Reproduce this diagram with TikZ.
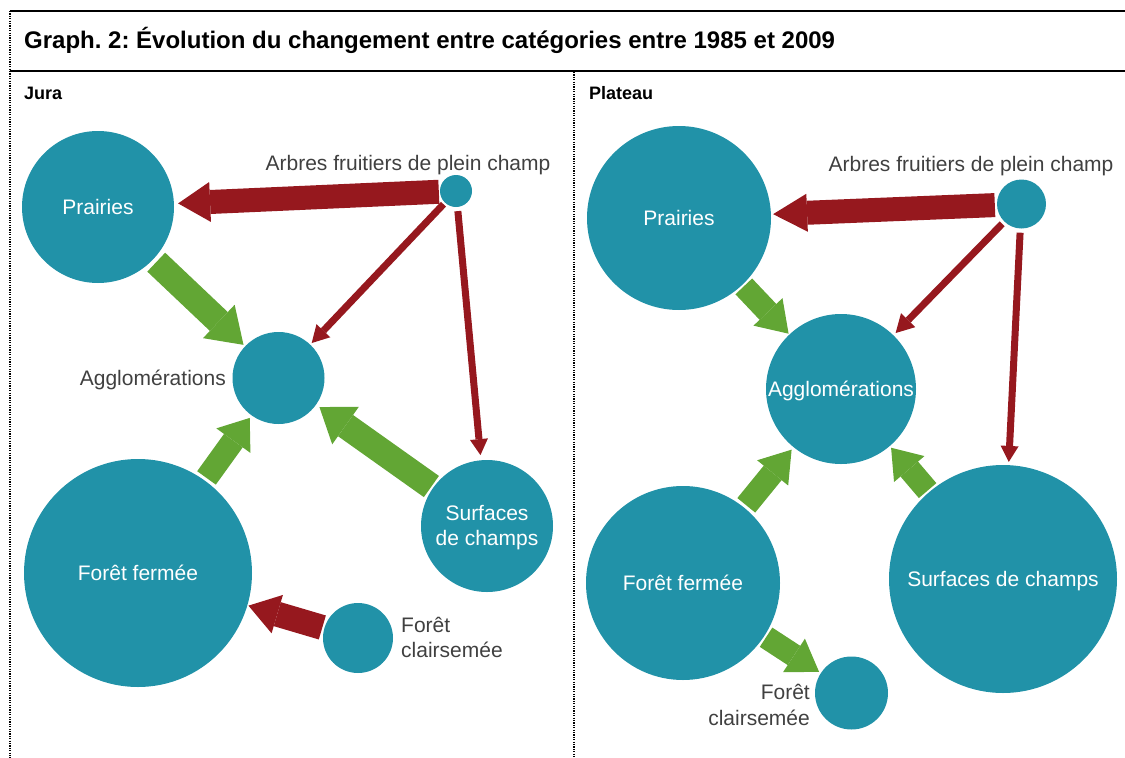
\documentclass[tikz,border=0pt]{standalone}
\usepackage{fontspec}
\setmainfont{Liberation Sans}
\usetikzlibrary{arrows.meta}
\frenchspacing
\definecolor{bubble}{RGB}{33,146,168}
\definecolor{flowred}{RGB}{150,24,30}
\definecolor{flowgreen}{RGB}{98,166,52}
\definecolor{labelgray}{RGB}{64,64,64}
\tikzset{
  bub/.style={circle, fill=bubble, draw=none, inner sep=0pt, minimum size=#1},
  lbl/.style={font=\fontsize{21pt}{25pt}\selectfont, inner sep=0pt},
  intext/.style={lbl, text=white, anchor=base},
  outtext/.style={lbl, text=labelgray},
  flow/.style n args={4}{draw=#1, line width=#2,
    -{Triangle[width=#3, length=#4, line width=0pt]}},
  frame/.style={line width=2.5pt, black},
  dotframe/.style={line width=2pt, black, dash pattern=on 1.2pt off 1.2pt},
  headtext/.style={anchor=base west, inner sep=0pt},
}
\begin{document}
\begin{tikzpicture}[x=1pt, y=-1pt]
\useasboundingbox (0,0) rectangle (1125,758);

% frame of the table
\draw[frame] (10,11) -- (1125,11);
\draw[frame] (10,71) -- (1125,71);
\draw[dotframe] (10,11) -- (10,758);
\draw[dotframe] (574,72) -- (574,758);

\node[headtext, font=\bfseries\fontsize{24pt}{28pt}\selectfont] (title) at (24,48)
  {Graph. 2: Évolution du changement entre catégories entre 1985 et 2009};
\node[headtext, font=\bfseries\fontsize{18pt}{21pt}\selectfont] (jura) at (24,99) {Jura};
\node[headtext, font=\bfseries\fontsize{18pt}{21pt}\selectfont] (plat) at (589,99) {Plateau};

% ---- Jura ----
\node[bub=152pt] (jpra) at (98,207) {};
\node[bub=32pt]  (jarb) at (456,191) {};
\node[bub=92pt]  (jagg) at (278.5,378) {};
\node[bub=228pt] (jff)  at (138,573) {};
\node[bub=132pt] (jsc)  at (487,526) {};
\node[bub=70pt]  (jfc)  at (358,638) {};

\node[intext] (jpraL) at (98,214.5) {Prairies};
\node[outtext, anchor=base] (jarbL) at (408,170) {Arbres fruitiers de plein champ};
\node[outtext, anchor=base east] (jaggL) at (226,385.5) {Agglomérations};
\node[intext] (jffL) at (138,580.5) {Forêt fermée};
\node[intext] (jscL1) at (487,520) {Surfaces};
\node[intext] (jscL2) at (487,545) {de champs};
\node[outtext, anchor=base west] (jfcL1) at (401,632) {Forêt};
\node[outtext, anchor=base west] (jfcL2) at (401,657) {clairsemée};

\draw[flow={flowred}{24pt}{40pt}{32pt}, shorten >=4pt, shorten <=1pt] (jarb) -- (jpra);
\draw[flow={flowred}{7pt}{19pt}{17pt}, shorten >=2pt, shorten <=2pt] (jarb) -- (jagg);
\draw[flow={flowred}{7pt}{18pt}{16pt}, shorten >=5pt, shorten <=4pt] (jarb) -- (jsc);
\draw[flow={flowgreen}{26pt}{46pt}{34pt}, shorten >=2pt, shorten <=4pt] (jpra) -- (jagg);
\draw[flow={flowgreen}{23pt}{42pt}{28pt}, shorten >=3pt, shorten <=3pt] (jff) -- (jagg);
\draw[flow={flowgreen}{26pt}{46pt}{32pt}, shorten >=4pt, shorten <=2pt] (jsc) -- (jagg);
\draw[flow={flowred}{25pt}{40pt}{30pt}, shorten >=1pt, shorten <=2pt] (jfc) -- (jff);

% ---- Plateau ----
\node[bub=184pt] (ppra) at (679,218) {};
\node[bub=49pt]  (parb) at (1021.5,204) {};
\node[bub=150pt] (pagg) at (841,389) {};
\node[bub=194pt] (pff)  at (683,583) {};
\node[bub=228pt] (psc)  at (1003,579) {};
\node[bub=73pt]  (pfc)  at (851.5,693) {};

\node[intext] (ppraL) at (679,225.5) {Prairies};
\node[outtext, anchor=base] (parbL) at (971,171.5) {Arbres fruitiers de plein champ};
\node[intext] (paggL) at (841,396) {Agglomérations};
\node[intext] (pffL) at (683,590.5) {Forêt fermée};
\node[intext] (pscL) at (1003,586.5) {Surfaces de champs};
\node[outtext, anchor=base east] (pfcL1) at (810,699) {Forêt};
\node[outtext, anchor=base east] (pfcL2) at (810,725) {clairsemée};

\draw[flow={flowred}{24pt}{38pt}{34pt}, shorten >=2pt, shorten <=2pt] (parb) -- (ppra);
\draw[flow={flowred}{7pt}{20pt}{18pt}, shorten >=3pt, shorten <=3pt] (parb) -- (pagg);
\draw[flow={flowred}{7pt}{18pt}{16pt}, shorten >=3pt, shorten <=4pt] (parb) -- (psc);
\draw[flow={flowgreen}{23pt}{40pt}{30pt}, shorten >=1pt, shorten <=2pt] (ppra) -- (pagg);
\draw[flow={flowgreen}{23pt}{40pt}{30pt}, shorten >=3pt, shorten <=3pt] (pff) -- (pagg);
\draw[flow={flowgreen}{23pt}{40pt}{28pt}, shorten >=2pt, shorten <=2pt] (psc) -- (pagg);
\draw[flow={flowgreen}{23pt}{40pt}{30pt}, shorten >=2pt, shorten <=2pt] (pff) -- (pfc);
\end{tikzpicture}
\end{document}
